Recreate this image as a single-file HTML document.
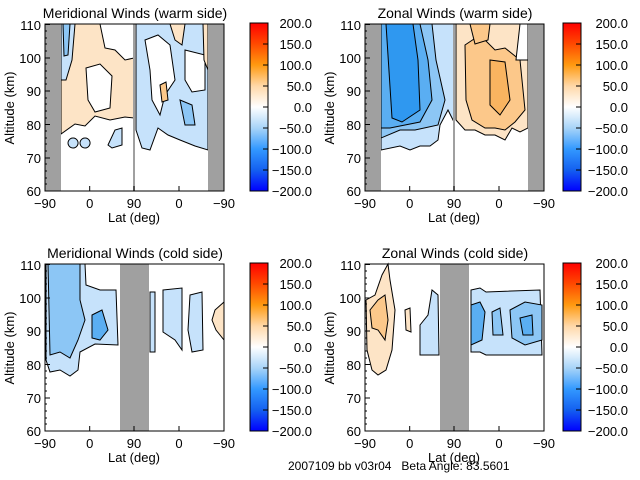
<!DOCTYPE html>
<html><head><meta charset="utf-8"><style>
html,body{margin:0;padding:0;background:#fff}
svg{display:block}
text{font-family:"Liberation Sans",sans-serif;font-size:13px;fill:#000}
</style></head><body>
<svg width="640" height="480" viewBox="0 0 640 480" xmlns="http://www.w3.org/2000/svg">
<defs>
<linearGradient id="cb" x1="0" y1="0" x2="0" y2="1">
<stop offset="0" stop-color="#ff0000"/>
<stop offset="0.125" stop-color="#ff4a00"/>
<stop offset="0.25" stop-color="#ff9a10"/>
<stop offset="0.375" stop-color="#ffd8a8"/>
<stop offset="0.5" stop-color="#ffffff"/>
<stop offset="0.625" stop-color="#a8d4f8"/>
<stop offset="0.75" stop-color="#3399ff"/>
<stop offset="0.875" stop-color="#1460f0"/>
<stop offset="1" stop-color="#0000ff"/>
</linearGradient>
<g id="axes">
<rect x="45" y="24" width="179" height="167" fill="none" stroke="#000" stroke-width="1"/>
<g stroke="#000" stroke-width="1">
<line x1="45" y1="24.5" x2="50" y2="24.5"/><line x1="45" y1="58" x2="50" y2="58"/><line x1="45" y1="91" x2="50" y2="91"/><line x1="45" y1="124.5" x2="50" y2="124.5"/><line x1="45" y1="158" x2="50" y2="158"/>
<line x1="89.7" y1="191" x2="89.7" y2="186"/><line x1="134" y1="191" x2="134" y2="186"/><line x1="179" y1="191" x2="179" y2="186"/>
</g>
<path d="M45,31h2M45,38h2M45,44h2M45,51h2M45,64h2M45,71h2M45,78h2M45,84h2M45,98h2M45,104h2M45,111h2M45,118h2M45,131h2M45,138h2M45,144h2M45,151h2M45,164h2M45,171h2M45,178h2M45,184h2" stroke="#000"/>
<text x="41" y="30" text-anchor="end">110</text>
<text x="41" y="63" text-anchor="end">100</text>
<text x="41" y="96" text-anchor="end">90</text>
<text x="41" y="130" text-anchor="end">80</text>
<text x="41" y="163" text-anchor="end">70</text>
<text x="41" y="196" text-anchor="end">60</text>
<text x="45" y="208" text-anchor="middle">−90</text>
<text x="89.7" y="208" text-anchor="middle">0</text>
<text x="134" y="208" text-anchor="middle">90</text>
<text x="179" y="208" text-anchor="middle">0</text>
<text x="224" y="208" text-anchor="middle">−90</text>
<text x="134" y="222" text-anchor="middle">Lat (deg)</text>
<text transform="translate(14,108) rotate(-90)" text-anchor="middle">Altitude (km)</text>
</g>
<g id="cbarL">
<rect x="250" y="23" width="18" height="168" fill="url(#cb)" stroke="#000"/>
<g stroke="#000"><line x1="263" y1="44" x2="268" y2="44"/><line x1="263" y1="65" x2="268" y2="65"/><line x1="263" y1="86" x2="268" y2="86"/><line x1="263" y1="107" x2="268" y2="107"/><line x1="263" y1="128" x2="268" y2="128"/><line x1="263" y1="149" x2="268" y2="149"/><line x1="263" y1="170" x2="268" y2="170"/></g>
<text x="312" y="28" text-anchor="end">200.0</text>
<text x="312" y="49" text-anchor="end">150.0</text>
<text x="312" y="70" text-anchor="end">100.0</text>
<text x="312" y="91" text-anchor="end">50.0</text>
<text x="312" y="112" text-anchor="end">0.0</text>
<text x="312" y="133" text-anchor="end">−50.0</text>
<text x="312" y="154" text-anchor="end">−100.0</text>
<text x="312" y="175" text-anchor="end">−150.0</text>
<text x="312" y="196" text-anchor="end">−200.0</text>
</g>
<g id="cbarR">
<rect x="243" y="23" width="18" height="168" fill="url(#cb)" stroke="#000"/>
<g stroke="#000"><line x1="256" y1="44" x2="261" y2="44"/><line x1="256" y1="65" x2="261" y2="65"/><line x1="256" y1="86" x2="261" y2="86"/><line x1="256" y1="107" x2="261" y2="107"/><line x1="256" y1="128" x2="261" y2="128"/><line x1="256" y1="149" x2="261" y2="149"/><line x1="256" y1="170" x2="261" y2="170"/></g>
<text x="308" y="28" text-anchor="end">200.0</text>
<text x="308" y="49" text-anchor="end">150.0</text>
<text x="308" y="70" text-anchor="end">100.0</text>
<text x="308" y="91" text-anchor="end">50.0</text>
<text x="308" y="112" text-anchor="end">0.0</text>
<text x="308" y="133" text-anchor="end">−50.0</text>
<text x="308" y="154" text-anchor="end">−100.0</text>
<text x="308" y="175" text-anchor="end">−150.0</text>
<text x="308" y="196" text-anchor="end">−200.0</text>
</g>
</defs>

<g>
<g stroke="#000" stroke-width="1">
<path d="M61,24 H134 V118 L125,117 L110,120 L95,116 L85,126 L75,124 L61,134 Z" fill="#fde4c6"/>
<path d="M86,68 L100,64 L112,76 L110,108 L95,112 L88,100 Z" fill="#fff"/>
<path d="M100,24 H134 V58 L125,60 L115,50 L105,48 Z" fill="#fff"/>
<path d="M61,24 H75 L72,60 L66,80 L61,80 Z" fill="#c6e2fb"/>
<path d="M63,24 H70 L68,55 L64,56 Z" fill="#8cc6f5"/>
<path d="M136,24 H208 V150 L195,146 L180,140 L168,135 L158,128 L150,150 L142,148 L136,130 Z" fill="#c6e2fb"/>
<path d="M145,40 L158,35 L170,45 L175,80 L165,95 L160,115 L152,100 L150,70 Z" fill="#fff"/>
<path d="M185,50 L205,55 L205,90 L192,92 L185,80 Z" fill="#fff"/>
<path d="M170,24 H185 L182,45 L175,40 Z" fill="#fde4c6"/>
<path d="M160,85 L166,82 L168,100 L162,102 Z" fill="#fcc88a"/>
<path d="M180,100 L192,105 L195,125 L185,125 Z" fill="#8cc6f5"/>
<path d="M208,24 V70 L204,60 L203,24 Z" fill="#fde4c6"/>
<path d="M73,138 a5,5 0 1,0 0.1,0 Z M85,138 a5,5 0 1,0 0.1,0 Z" fill="#c6e2fb"/>
<path d="M108,145 L115,130 L122,128 L122,145 L112,148 Z" fill="#c6e2fb"/>
</g>
<rect x="45" y="24" width="16" height="167" fill="#a0a0a0"/>
<rect x="208" y="24" width="16" height="167" fill="#a0a0a0"/>
<rect x="133" y="24" width="2" height="167" fill="#a0a0a0"/>
<text x="135" y="18" text-anchor="middle" style="font-size:14px">Meridional Winds (warm side)</text>
<use href="#axes"/><use href="#cbarL"/>
</g>

<g transform="translate(320,0)">
<g stroke="#000" stroke-width="1">
<path d="M61,24 H134 V122 L128,110 L120,125 L118,140 L110,146 L100,146 L90,150 L80,146 L61,150 Z" fill="#c6e2fb"/>
<path d="M61,24 H112 L116,60 L125,100 L118,125 L95,130 L80,130 L61,138 Z" fill="#8cc6f5"/>
<path d="M61,24 H100 L108,60 L112,100 L100,122 L85,125 L70,128 L61,128 Z" fill="#5aaef2"/>
<path d="M66,24 H93 L98,60 L100,110 L82,122 L72,118 Z" fill="#2f98f0"/>
<path d="M136,24 H208 V128 L200,132 L192,128 L185,140 L175,135 L165,135 L155,130 L145,130 L136,120 Z" fill="#fde4c6"/>
<path d="M145,45 L160,35 L175,50 L185,48 L200,60 L205,110 L195,122 L185,130 L175,128 L165,128 L152,120 L146,100 Z" fill="#fcc88a"/>
<path d="M170,60 L185,62 L190,100 L180,115 L170,105 Z" fill="#f9b460"/>
<path d="M150,24 L170,24 L168,40 L155,44 Z" fill="#fcc88a"/>
<path d="M200,24 H208 V60 L196,60 Z" fill="#fff"/>
</g>
<rect x="45" y="24" width="16" height="167" fill="#a0a0a0"/>
<rect x="208" y="24" width="16" height="167" fill="#a0a0a0"/>
<rect x="133" y="24" width="2" height="167" fill="#a0a0a0"/>
<text x="135" y="18" text-anchor="middle" style="font-size:14px">Zonal Winds (warm side)</text>
<use href="#axes"/><use href="#cbarR"/>
</g>

<g transform="translate(0,240)">
<g stroke="#000" stroke-width="1">
<path d="M46,24 H85 L86,45 L100,50 L116,50 L118,105 L95,104 L80,112 L78,130 L70,136 L60,130 L50,132 L46,120 Z" fill="#c6e2fb"/>
<path d="M48,24 H80 L80,60 L85,80 L78,100 L70,118 L60,112 L50,115 Z" fill="#8cc6f5"/>
<path d="M92,75 L102,70 L108,90 L100,100 L92,98 Z" fill="#5aaef2"/>
<path d="M150,52 L155,52 L155,112 L150,112 Z" fill="#c6e2fb"/>
<path d="M163,50 L182,48 L182,110 L175,100 L163,92 Z" fill="#c6e2fb"/>
<path d="M190,55 L202,52 L203,110 L192,112 L188,90 Z" fill="#c6e2fb"/>
<path d="M224,62 L215,70 L212,80 L216,90 L224,100 Z" fill="#fde4c6"/>
</g>
<rect x="120" y="24" width="29" height="167" fill="#a0a0a0"/>
<text x="135" y="18" text-anchor="middle" style="font-size:14px">Meridional Winds (cold side)</text>
<use href="#axes"/><use href="#cbarL"/>
</g>

<g transform="translate(320,240)">
<g stroke="#000" stroke-width="1">
<path d="M46,60 L55,55 L62,35 L68,24 L70,40 L75,70 L72,110 L66,130 L58,135 L52,130 L47,110 Z" fill="#fde4c6"/>
<path d="M50,70 L58,60 L65,55 L68,80 L65,100 L58,90 L52,88 Z" fill="#fcc88a"/>
<path d="M85,70 L90,68 L91,92 L86,90 Z" fill="#fde4c6"/>
<path d="M100,85 L108,75 L112,50 L118,55 L119,115 L100,115 Z" fill="#c6e2fb"/>
<path d="M151,50 L160,48 L166,52 L220,50 L222,115 L166,115 L160,112 L151,112 Z" fill="#c6e2fb"/>
<path d="M151,65 L160,62 L165,72 L162,100 L151,105 Z" fill="#5aaef2"/>
<path d="M172,72 L180,68 L183,95 L173,95 Z" fill="#8cc6f5"/>
<path d="M190,70 L205,62 L222,65 L222,100 L205,105 L192,98 Z" fill="#8cc6f5"/>
<path d="M200,78 L212,75 L213,95 L203,95 Z" fill="#5aaef2"/>
</g>
<rect x="120" y="24" width="29" height="167" fill="#a0a0a0"/>
<text x="135" y="18" text-anchor="middle" style="font-size:14px">Zonal Winds (cold side)</text>
<use href="#axes"/><use href="#cbarR"/>
</g>

<text x="288" y="470" style="font-size:12px;white-space:pre" xml:space="preserve">2007109 bb v03r04   Beta Angle: 83.5601</text>
</svg>
</body></html>
